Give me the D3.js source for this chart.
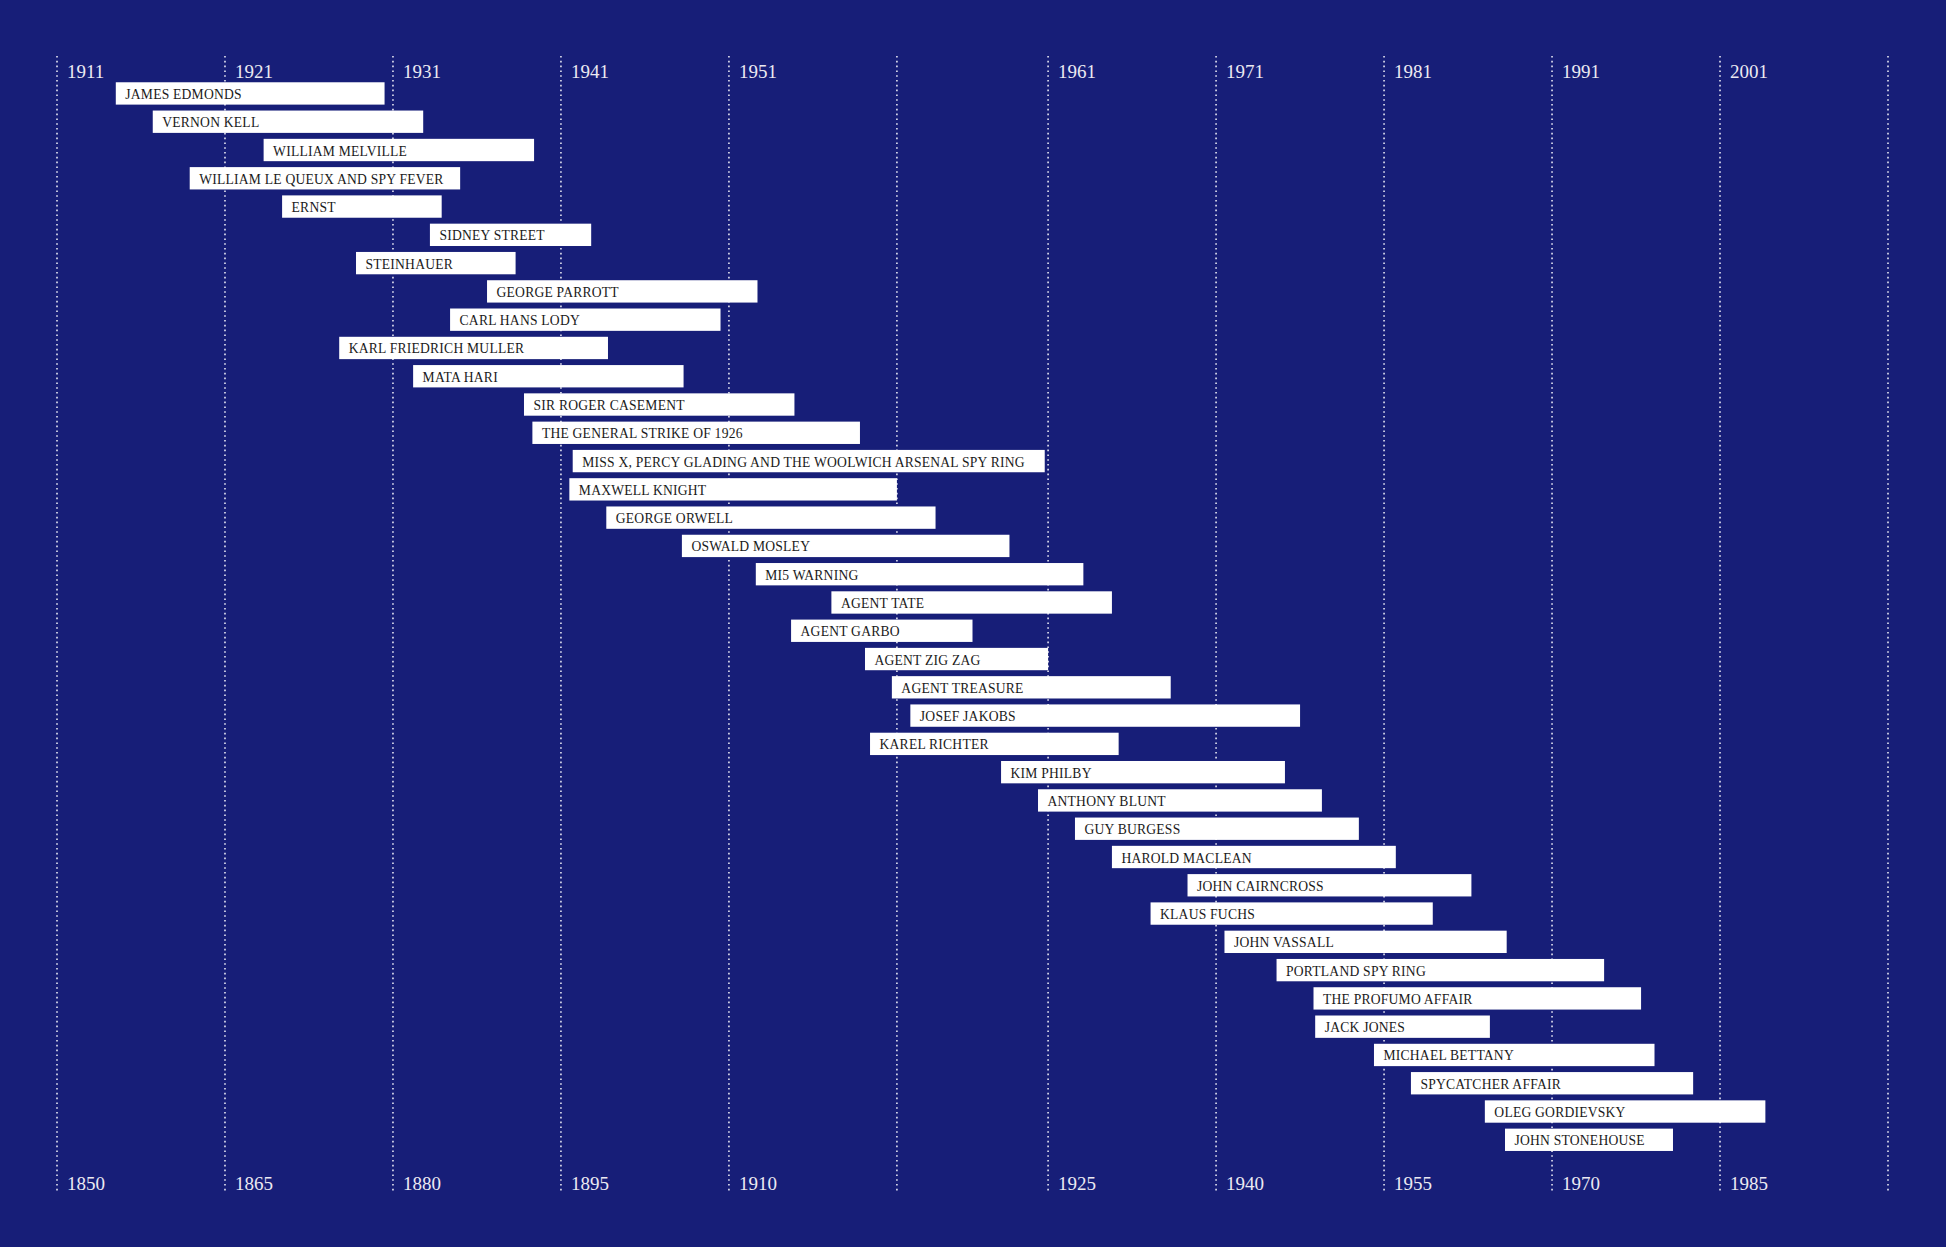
<!DOCTYPE html>
<html>
<head>
<meta charset="utf-8">
<script src="https://cdn.jsdelivr.net/npm/d3@7"></script>
<style>
    html, body { margin: 0; padding: 0; background: #171e78; }
    .barText { font-family: "Liberation Serif", "DejaVu Serif", serif; font-size: 13.6px; letter-spacing: 0.22px; fill: #1a1a1a; }
    .axisText { font-family: "Liberation Serif", "DejaVu Serif", serif; font-size: 19px; fill: #eceaf2; }
</style>
</head>
<body>
<div id="timeline"></div>
<script>
// names of the stories, top to bottom
const stories = [
    "JAMES EDMONDS", "VERNON KELL", "WILLIAM MELVILLE", "WILLIAM LE QUEUX AND SPY FEVER",
    "ERNST", "SIDNEY STREET", "STEINHAUER", "GEORGE PARROTT", "CARL HANS LODY",
    "KARL FRIEDRICH MULLER", "MATA HARI", "SIR ROGER CASEMENT", "THE GENERAL STRIKE OF 1926",
    "MISS X, PERCY GLADING AND THE WOOLWICH ARSENAL SPY RING", "MAXWELL KNIGHT",
    "GEORGE ORWELL", "OSWALD MOSLEY", "MI5 WARNING", "AGENT TATE", "AGENT GARBO",
    "AGENT ZIG ZAG", "AGENT TREASURE", "JOSEF JAKOBS", "KAREL RICHTER", "KIM PHILBY",
    "ANTHONY BLUNT", "GUY BURGESS", "HAROLD MACLEAN", "JOHN CAIRNCROSS", "KLAUS FUCHS",
    "JOHN VASSALL", "PORTLAND SPY RING", "THE PROFUMO AFFAIR", "JACK JONES",
    "MICHAEL BETTANY", "SPYCATCHER AFFAIR", "OLEG GORDIEVSKY", "JOHN STONEHOUSE"
];
// start / end of each bar, measured on the top axis
const startYear = [
    1914.5, 1916.7, 1923.3, 1918.9, 1924.4, 1933.2, 1928.8, 1936.6, 1934.4, 1927.8,
    1932.2, 1938.8, 1939.3, 1941.7, 1941.5, 1943.7, 1948.2, 1952.6, 1957.1, 1954.7,
    1959.1, 1960.7, 1961.8, 1959.4, 1967.2, 1969.4, 1971.6, 1973.8, 1978.3, 1976.1,
    1980.5, 1983.6, 1985.8, 1985.9, 1989.4, 1991.6, 1996.0, 1997.2
];
const endYear = [
    1930.5, 1932.8, 1939.4, 1935.0, 1933.9, 1942.8, 1938.3, 1952.7, 1950.5, 1943.8,
    1948.3, 1954.9, 1958.8, 1969.8, 1961.0, 1963.3, 1967.7, 1972.1, 1973.8, 1965.5,
    1970.0, 1977.3, 1985.0, 1974.2, 1984.1, 1986.3, 1988.5, 1990.7, 1995.2, 1992.9,
    1997.3, 2003.1, 2005.3, 1996.3, 2006.1, 2008.4, 2012.7, 2007.2
];
// vertical guides and their labels
const gridYears = [1911, 1921, 1931, 1941, 1951, 1961, 1970, 1980, 1990, 2000, 2010, 2020];
const topLabels = ["1911", "1921", "1931", "1941", "1951", "", "1961", "1971", "1981", "1991", "2001", ""];
const bottomLabels = ["1850", "1865", "1880", "1895", "1910", "", "1925", "1940", "1955", "1970", "1985", ""];

const width = 1946, height = 1247;

const svg = d3.select("#timeline").append("svg")
    .attr("width", width)
    .attr("height", height);

svg.append("rect")
    .attr("width", width)
    .attr("height", height)
    .style("fill", "#171e78");

const x = d3.scaleLinear().domain([1911, 2020]).range([57, 1888]);
const y = d3.scaleBand().domain(stories)
    .range([79.3, 79.3 + stories.length * 28.28])
    .paddingInner(0.21)
    .paddingOuter(0.105);

let grid = svg.append("g").attr("id", "grid");
grid.selectAll("line").data(gridYears).enter()
    .append("line")
    .attr("x1", d => x(d)).attr("x2", d => x(d))
    .attr("y1", 56).attr("y2", 1192)
    .style("stroke", "#e6e6f2")
    .style("stroke-width", 1.6)
    .style("stroke-dasharray", "1.6,3.2");

grid.selectAll("text.top").data(gridYears).enter()
    .append("text")
    .attr("class", "axisText top")
    .attr("x", d => x(d) + 10)
    .attr("y", 77.5)
    .text((d, i) => topLabels[i]);

grid.selectAll("text.bottom").data(gridYears).enter()
    .append("text")
    .attr("class", "axisText bottom")
    .attr("x", d => x(d) + 10)
    .attr("y", 1190)
    .text((d, i) => bottomLabels[i]);

let bars = svg.append("g").attr("id", "bars")
    .selectAll("g").data(stories).enter().append("g");

bars.append("rect")
    .attr("x", (d, i) => x(startYear[i]))
    .attr("y", d => y(d))
    .attr("width", (d, i) => x(endYear[i]) - x(startYear[i]))
    .attr("height", y.bandwidth())
    .style("fill", "#ffffff");

bars.append("text")
    .attr("class", "barText")
    .attr("x", (d, i) => x(startYear[i]) + 9.5)
    .attr("y", d => y(d) + y.bandwidth() / 2 + 5.5)
    .text(d => d);
</script>
</body>
</html>
